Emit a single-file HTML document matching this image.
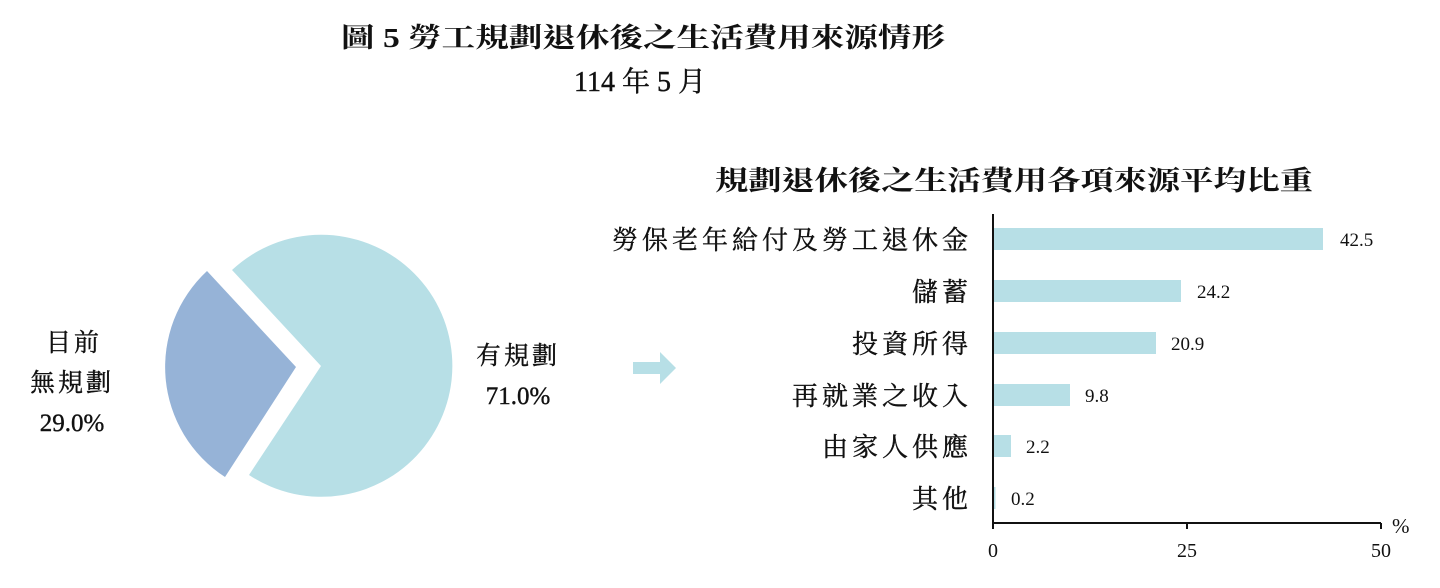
<!DOCTYPE html>
<html><head><meta charset="utf-8"><style>
body{margin:0;background:#fff;}
svg text{font-family:"Liberation Serif","Noto Serif CJK TC","Noto Serif CJK SC",serif;fill:#111;}
.c{stroke:#111;stroke-width:0.4;}
</style></head><body>
<svg width="1440" height="583" viewBox="0 0 1440 583" xmlns="http://www.w3.org/2000/svg">
<text x="643" y="47" font-size="27" font-weight="bold" text-anchor="middle" textLength="604" lengthAdjust="spacingAndGlyphs">圖 5  勞工規劃退休後之生活費用來源情形</text>
<text class="c" x="640" y="91" font-size="28" text-anchor="middle">114 年 5 月</text>
<text x="1014" y="190" font-size="27" font-weight="bold" text-anchor="middle" textLength="598" lengthAdjust="spacingAndGlyphs">規劃退休後之生活費用各項來源平均比重</text>
<!-- pie -->
<path d="M321,366 L232,270 A131,131 0 1 1 249,475 Z" fill="#b7dfe6"/>
<path d="M296,367 L207,271 A131,131 0 0 0 225,477 Z" fill="#96b3d7"/>
<g font-size="25" class="c">
<text x="74" y="351" text-anchor="middle" letter-spacing="3">目前</text>
<text x="72" y="391" text-anchor="middle" letter-spacing="3">無規劃</text>
<text x="72" y="431" text-anchor="middle">29.0%</text>
<text x="518" y="364" text-anchor="middle" letter-spacing="3">有規劃</text>
<text x="518" y="404" text-anchor="middle">71.0%</text>
</g>
<path d="M633,362 H660 V352 L676,368 L660,384 V374 H633 Z" fill="#b7dfe6"/>
<!-- bars -->
<g fill="#b7dfe6">
<rect x="994" y="228" width="329" height="22"/>
<rect x="994" y="280" width="187" height="22"/>
<rect x="994" y="332" width="162" height="22"/>
<rect x="994" y="384" width="76" height="22"/>
<rect x="994" y="435" width="17" height="22"/>
<rect x="994" y="487" width="1.5" height="22"/>
</g>
<path d="M993,214 V523 H1381 M1187,523 V529 M1381,523 V529 M993,523 V529" stroke="#111" stroke-width="2" fill="none"/>
<g font-size="19">
<text x="1340" y="246">42.5</text>
<text x="1197" y="298">24.2</text>
<text x="1171" y="350">20.9</text>
<text x="1085" y="402">9.8</text>
<text x="1026" y="453">2.2</text>
<text x="1011" y="505">0.2</text>
<text x="993" y="557" font-size="20" text-anchor="middle">0</text>
<text x="1187" y="557" font-size="20" text-anchor="middle">25</text>
<text x="1381" y="557" font-size="20" text-anchor="middle">50</text>
<text x="1392" y="533" font-size="21">%</text>
</g>
<g font-size="26" text-anchor="end" letter-spacing="4" class="c">
<text x="972" y="249">勞保老年給付及勞工退休金</text>
<text x="972" y="301">儲蓄</text>
<text x="972" y="353">投資所得</text>
<text x="972" y="405">再就業之收入</text>
<text x="972" y="456">由家人供應</text>
<text x="972" y="508">其他</text>
</g>
</svg>
</body></html>
